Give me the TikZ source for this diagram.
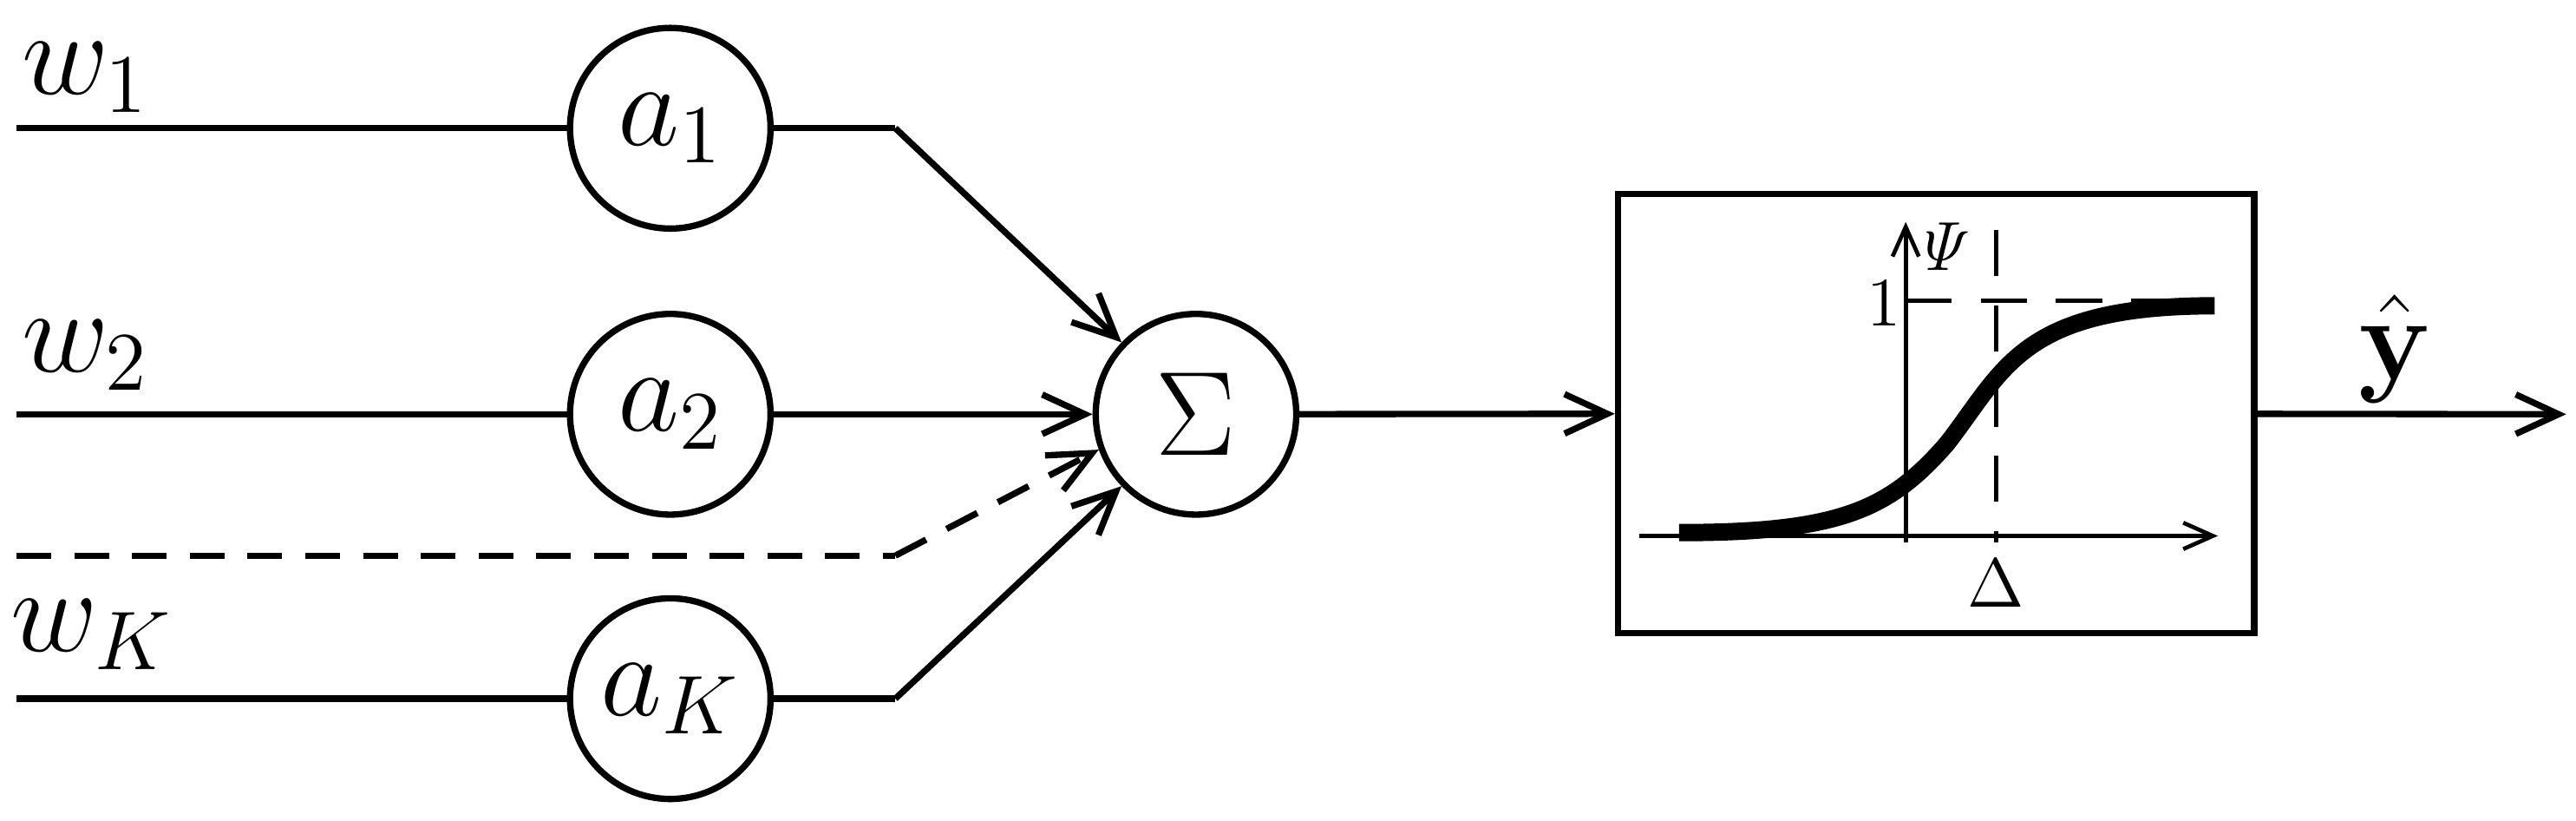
\documentclass[tikz,border=0pt]{standalone}
\usepackage{amsmath}
\usetikzlibrary{arrows.meta}
\begin{document}
\begin{tikzpicture}[x=0.01cm,y=-0.01cm,line width=1.1pt,
  neuron/.style={circle,draw,minimum size=1.22cm,inner sep=0pt,font=\fontsize{20}{24}\selectfont},
  lab/.style={font=\fontsize{20}{24}\selectfont},
  arr/.style={-{Straight Barb[length=2.6mm,width=2.4mm]}},
  sarr/.style={-{Straight Barb[length=1.8mm,width=1.6mm]},line width=0.7pt},
  dsh/.style={dash pattern=on 6pt off 4pt}]
\useasboundingbox (0,0) rectangle (1568,499);
\node[neuron] (a1) at (408,78) {$a_1$};
\node[neuron] (a2) at (408,252) {$a_2$};
\node[neuron] (aK) at (408,425) {$a_K$};
\node[neuron] (s) at (728,252) {$\Sigma$};
\node[draw,minimum width=3.87cm,minimum height=2.67cm,inner sep=0pt] (box) at (1178.5,251.5) {};
\coordinate (i1) at (10,78); \coordinate (i2) at (10,252);
\coordinate (id) at (10,338); \coordinate (iK) at (10,425);
\coordinate (b1) at (545,78); \coordinate (bd) at (545,338); \coordinate (bK) at (545,425);
\coordinate (out) at (1562,252);
\node[lab] (w1) at (52,47) {$w_1$};
\node[lab] (w2) at (52,216) {$w_2$};
\node[lab] (wK) at (56,386) {$w_K$};
\draw (i1) -- (a1); \draw (i2) -- (a2); \draw (iK) -- (aK);
\draw[dsh] (id) -- (bd);
\draw (a1) -- (b1); \draw[arr] (b1) -- (s.136);
\draw[arr] (a2) -- (s);
\draw[arr,dsh] (bd) -- (s.200);
\draw (aK) -- (bK); \draw[arr] (bK) -- (s.224);
\draw[arr] (s) -- (box);
\draw[arr] (box) -- (out);
\node[lab] (y) at (1458,212) {$\hat{\mathbf{y}}$};
% inner graph
\coordinate (hx0) at (998,326); \coordinate (hx1) at (1350,326);
\coordinate (vy0) at (1160,330); \coordinate (vy1) at (1160,135);
\draw[sarr] (hx0) -- (hx1);
\draw[sarr] (vy0) -- (vy1);
\draw[line width=0.7pt,dash pattern=on 8pt off 5pt] (1215,140) -- (1215,330);
\draw[line width=0.7pt,dash pattern=on 8pt off 5pt] (1160,183) -- (1345,183);
\draw[line width=3pt] (1022,324) .. controls (1120,324) and (1150,310) .. (1185,270)
  .. controls (1220,225) and (1230,186) .. (1348,186);
\node[font=\fontsize{13}{15}\selectfont] (psi) at (1182,150) {$\mathit{\Psi}$};
\node[font=\fontsize{12}{14}\selectfont] (one) at (1147,184) {1};
\node[font=\fontsize{13}{15}\selectfont] (del) at (1215,355) {$\Delta$};
\end{tikzpicture}
\end{document}
